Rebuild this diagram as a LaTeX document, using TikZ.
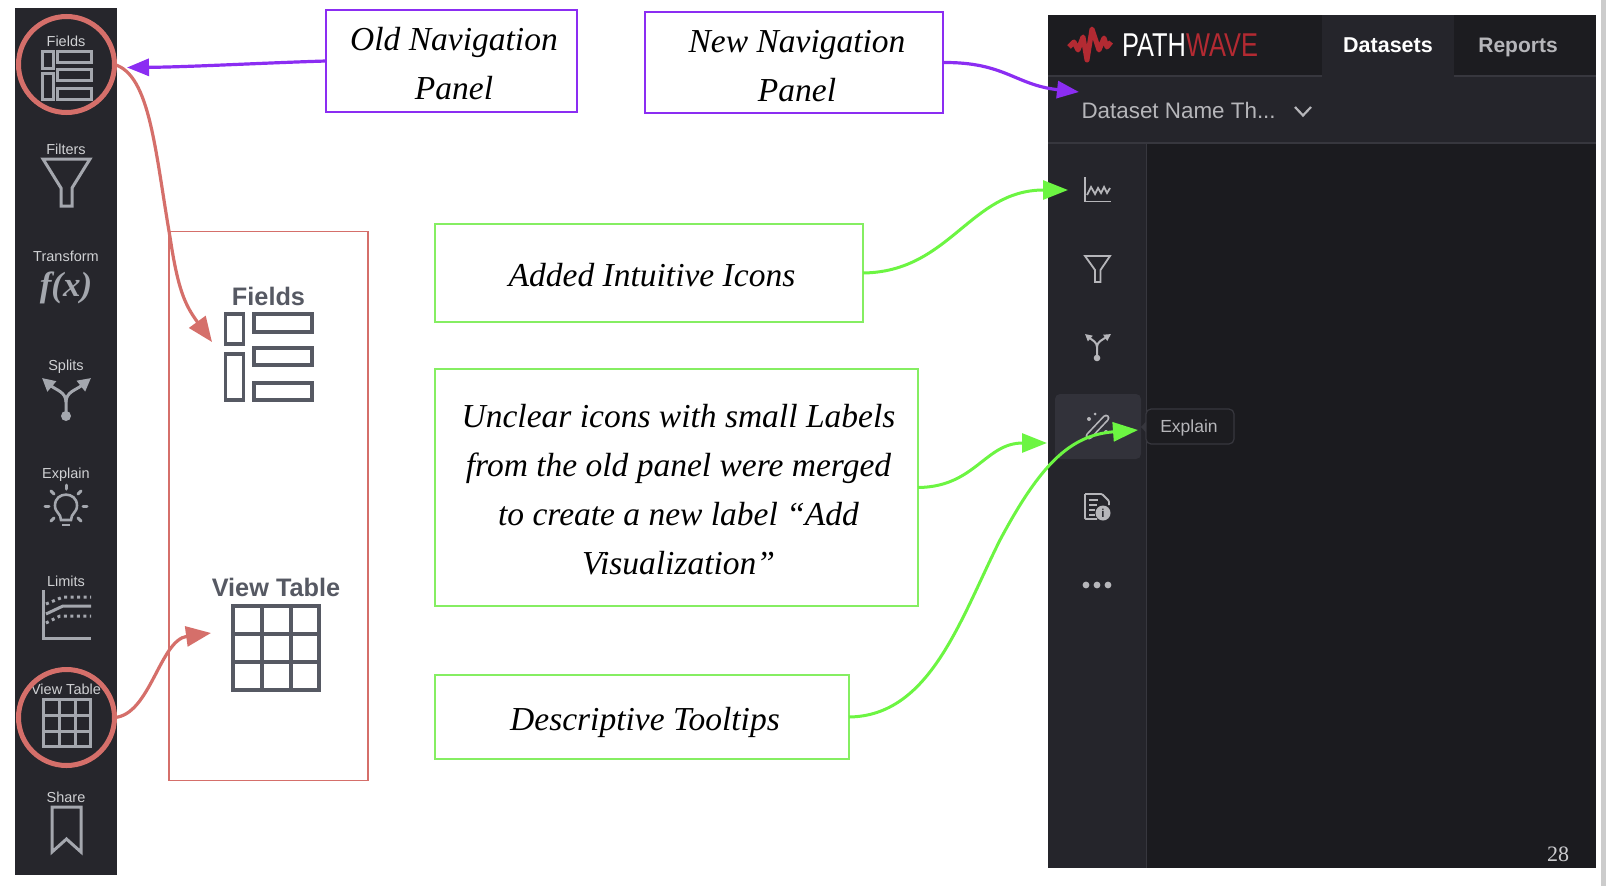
\documentclass[tikz,border=0pt]{standalone}
\usepackage{fontspec}
\setmainfont{Liberation Sans}
\newfontfamily\handfont{Liberation Serif}
\newfontfamily\logofont[FakeStretch=0.77]{Liberation Sans}
\usetikzlibrary{arrows.meta,positioning}
\definecolor{barbg}{HTML}{26262C}
\definecolor{baricon}{HTML}{A4A7AE}
\definecolor{barlabel}{HTML}{CFD0D3}
\definecolor{ringred}{HTML}{D56F6A}
\definecolor{navpurple}{HTML}{8B2DF2}
\definecolor{notegreen}{HTML}{6CF542}
\definecolor{boxgreen}{HTML}{85EE62}
\definecolor{slategrey}{HTML}{565963}
\definecolor{appdark}{HTML}{1B1B1F}
\definecolor{apppanel}{HTML}{25252B}
\definecolor{appline}{HTML}{37373E}
\definecolor{apphi}{HTML}{32323A}
\definecolor{apptext}{HTML}{B6B6BA}
\definecolor{apptop}{HTML}{1C1C20}
\definecolor{logored}{HTML}{B32A32}
\begin{document}
\begin{tikzpicture}[x=1pt,y=-1pt,line join=miter,
  every node/.style={inner sep=0pt,outer sep=0pt},
  barlbl/.style={font=\fontsize{14.5}{16}\selectfont,text=barlabel,text height=10pt,text depth=0pt},
  baricn/.style={draw=baricon,line width=3pt},
  bigicn/.style={draw=slategrey,line width=3.6pt},
  biglbl/.style={font=\fontsize{25.3}{28}\selectfont\bfseries,text=slategrey,text height=18pt,text depth=0pt},
  appicn/.style={draw=apptext,line width=1.8pt},
  ring/.style={draw=ringred,line width=5pt,circle,minimum size=96pt},
  handtxt/.style={font=\handfont\itshape\fontsize{33.5}{49}\selectfont,align=center,text=black},
  oldnew/.style={draw=navpurple,line width=1.3pt},
  note/.style={draw=boxgreen,line width=1.3pt},
  redflow/.style={draw=ringred,line width=3.2pt,-{Triangle[length=25pt,width=20pt]}},
  purpleflow/.style={draw=navpurple,line width=3.2pt,-{Triangle[length=22pt,width=17pt]}},
  greenflow/.style={draw=notegreen,line width=3pt,-{Triangle[length=25pt,width=19pt]}}]
  \useasboundingbox (0,0) rectangle (1606,886);
  \fill[black!20] (1601,0) rectangle (1606,886);
  % old bar
  \fill[barbg] (15,8) rectangle (117,875);
  \node[barlbl] (lblfields) at (66,41) {Fields};
  \draw[baricn] (42,51) rectangle (53,68);
  \draw[baricn] (42,73) rectangle (53,99);
  \draw[baricn] (57,51) rectangle (91,62);
  \draw[baricn] (57,69) rectangle (91,80);
  \draw[baricn] (57,88) rectangle (91,99);
  \node[barlbl] (lblfilters) at (66,149) {Filters};
  \draw[baricn] (43,159) -- (90,159) -- (72,188) -- (72,206) -- (61,206) -- (61,188) -- cycle;
  \node[barlbl] (lbltransform) at (66,256.5) {Transform};
  \node[font=\handfont\itshape\bfseries\fontsize{35}{38}\selectfont,text=baricon] (fx) at (66,288) {f(x)};
  \node[barlbl] (lblsplits) at (66,365) {Splits};
  \fill[baricon] (66,416) circle (5);
  \draw[draw=baricon,line width=3pt,-{Triangle[length=13pt,width=13pt]}] (66,416) -- (66,402) .. controls (66,392) and (56,390) .. (42,378);
  \draw[draw=baricon,line width=3pt,-{Triangle[length=13pt,width=13pt]}] (66,402) .. controls (66,392) and (76,390) .. (91,378);
  \node[barlbl] (lblexplain) at (66,473) {Explain};
  \draw[baricn,line width=2.6pt] (61,520) .. controls (61,513) and (55,513) .. (55,505.5) .. controls (55,491) and (77,491) .. (77,505.5) .. controls (77,513) and (71,513) .. (71,520) -- cycle;
  \draw[baricn,line width=2.8pt] (62,525) -- (70,525);
  \draw[baricn,line cap=round] (66,485) -- (66,489);
  \draw[baricn,line cap=round] (45,506) -- (49,506);
  \draw[baricn,line cap=round] (83,506) -- (87,506);
  \draw[baricn,line cap=round] (51,491) -- (54,494);
  \draw[baricn,line cap=round] (81,491) -- (78,494);
  \draw[baricn,line cap=round] (51,521) -- (54,518);
  \draw[baricn,line cap=round] (81,521) -- (78,518);
  \node[barlbl] (lbllimits) at (66,581) {Limits};
  \draw[baricn] (43,590) -- (43,638) -- (91,638);
  \draw[baricn] (46,614) -- (63,606) -- (91,606);
  \draw[baricn,dash pattern=on 3pt off 3.5pt] (46,604) -- (63,597) -- (91,597);
  \draw[baricn,dash pattern=on 3pt off 3.5pt] (46,623) -- (60,616) -- (91,616);
  \node[barlbl] (lblview) at (66,689) {View Table};
  \draw[baricn] (43,699) rectangle (90,746);
  \draw[baricn] (43,715) -- (90,715);
  \draw[baricn] (43,731) -- (90,731);
  \draw[baricn] (59,699) -- (59,746);
  \draw[baricn] (75,699) -- (75,746);
  \node[barlbl] (lblshare) at (66,797) {Share};
  \draw[baricn] (52,807) -- (81,807) -- (81,852) -- (66.5,839) -- (52,852) -- cycle;
  % red frame
  \node[draw=ringred,line width=1.6pt,minimum width=199pt,minimum height=549pt] (frame) at (268.5,506) {};
  \node[biglbl] (bigfields) at (268.5,296) {Fields};
  \draw[bigicn] (225.5,314) rectangle (243.5,344);
  \draw[bigicn] (225.5,354) rectangle (243.5,400);
  \draw[bigicn] (254,314) rectangle (312,332);
  \draw[bigicn] (254,348) rectangle (312,365);
  \draw[bigicn] (254,383) rectangle (312,400);
  \node[biglbl] (bigview) at (276,587) {View Table};
  \draw[bigicn] (233,606) rectangle (319,690);
  \draw[bigicn] (233,634) -- (319,634);
  \draw[bigicn] (233,662) -- (319,662);
  \draw[bigicn] (262,606) -- (262,690);
  \draw[bigicn] (291,606) -- (291,690);
  \coordinate (fieldstip) at (212,342);
  \coordinate (viewtip) at (211,633);
  % new panel
  \fill[appdark] (1048,15) rectangle (1596,868);
  \fill[apptop] (1048,15) rectangle (1596,76);
  \fill[apppanel] (1322,15) rectangle (1454,76);
  \fill[apppanel] (1048,76) rectangle (1596,143);
  \fill[apppanel] (1048,143) rectangle (1146,868);
  \draw[appline,line width=1.2pt] (1048,143) -- (1596,143);
  \draw[appline,line width=1.2pt] (1048,76) -- (1322,76);
  \draw[appline,line width=1.2pt] (1454,76) -- (1596,76);
  \draw[appline,line width=1.2pt] (1146.5,143) -- (1146.5,868);
  \draw[logored,line width=5pt,line join=round] (1069,47) -- (1074,42) -- (1078,50) -- (1083,37) -- (1087,60) -- (1092,29) -- (1099,50) -- (1104,38) -- (1107,47) -- (1111,42);
  \node[font=\logofont\fontsize{33}{36}\selectfont,text=white,anchor=west] (logopath) at (1122,45) {PATH};
  \node[font=\logofont\fontsize{33}{36}\selectfont,text=logored,right=0pt of logopath] (logowave) {WAVE};
  \node[font=\fontsize{21.5}{24}\selectfont\bfseries,text=white] (tabdatasets) at (1388,45) {Datasets};
  \node[font=\fontsize{21}{24}\selectfont\bfseries,text=apptext] (tabreports) at (1518,47) {Reports};
  \node[font=\fontsize{22.4}{24}\selectfont,text=apptext,anchor=west] (dsname) at (1081.5,110) {Dataset Name Th...};
  \draw[apptext,line width=2.2pt] (1295,107) -- (1303,115.5) -- (1311,107);
  \draw[appicn] (1085,177) -- (1085,201.5) -- (1111,201.5);
  \draw[appicn] (1087,195) -- (1091,187) -- (1095,194) -- (1098,188) -- (1101,193) -- (1104,187) -- (1107,193) -- (1110,188);
  \draw[appicn] (1085,256) -- (1110,256) -- (1100.5,270) -- (1100.5,282) -- (1095,282) -- (1095,270) -- cycle;
  \fill[apptext] (1097,358) circle (3.3);
  \draw[draw=apptext,line width=2pt,-{Triangle[length=7pt,width=7pt]}] (1097,358) -- (1097,347) .. controls (1097,342) and (1092,340) .. (1085,334);
  \draw[draw=apptext,line width=2pt,-{Triangle[length=7pt,width=7pt]}] (1097,347) .. controls (1097,342) and (1102,340) .. (1111,334);
  \fill[apphi,rounded corners=5pt] (1055,394) rectangle (1141,459);
  \draw[apptext,line width=7pt,line cap=round] (1089,436) -- (1106,418);
  \draw[apphi,line width=3.6pt,line cap=round] (1089,436) -- (1106,418);
  \fill[apptext] (1089,419) circle (2);
  \fill[apptext] (1095,414) circle (1.5);
  \fill[apptext] (1106,432) circle (2);
  \draw[appicn,rounded corners=1pt] (1085,494) -- (1102,494) -- (1109,501) -- (1109,505);
  \draw[appicn,rounded corners=1pt] (1085,494) -- (1085,519) -- (1097,519);
  \draw[appicn,line width=1.3pt] (1089,500) -- (1098,500);
  \draw[appicn,line width=1.3pt] (1089,505) -- (1097,505);
  \draw[appicn,line width=1.3pt] (1089,510) -- (1095,510);
  \draw[appicn,line width=1.3pt] (1089,515) -- (1095,515);
  \node[circle,fill=apptext,minimum size=15pt,text=apppanel,font=\fontsize{11.5}{12}\selectfont\bfseries] (infodot) at (1103,513) {i};
  \fill[apptext] (1086,585) circle (3.4);
  \fill[apptext] (1097,585) circle (3.4);
  \fill[apptext] (1108,585) circle (3.4);
  \fill[appline] (1146.5,421) -- (1141,427) -- (1146.5,433) -- cycle;
  \node[draw=appline,fill=apptop,line width=1.2pt,rounded corners=5pt,minimum width=88pt,minimum height=35pt] (tooltip) at (1190,426.5) {};
  \node[font=\fontsize{17.5}{20}\selectfont,text=apptext] (tooltiptxt) at (1189,428) {Explain};
  \node[font=\handfont\fontsize{22}{24}\selectfont,text=apptext!70!white] (pagenum) at (1558,854) {28};
  % notes
  \node[oldnew,minimum width=251pt,minimum height=102pt] (oldnav) at (451.5,61) {};
  \node[handtxt] at (454,64) (oldtxt) {Old Navigation\\Panel};
  \node[oldnew,minimum width=298pt,minimum height=101pt] (newnav) at (794,62.5) {};
  \node[handtxt] at (797,66) (newtxt) {New Navigation\\Panel};
  \node[note,minimum width=428pt,minimum height=98pt] (icons) at (649,273) {};
  \node[handtxt] at (652,275) (iconstxt) {Added Intuitive Icons};
  \node[note,minimum width=483pt,minimum height=237pt] (merged) at (676.5,487.5) {};
  \node[handtxt] at (678.5,490) (mergedtxt) {Unclear icons with small Labels\\from the old panel were merged\\to create a new label “Add\\Visualization”};
  \node[note,minimum width=414pt,minimum height=84pt] (tips) at (642,717) {};
  \node[handtxt] at (645,722) (tipstxt) {Descriptive Tooltips};
  % rings and arrows
  \node[ring] (fieldsring) at (66.5,64.5) {};
  \node[ring] (viewring) at (66.5,717.5) {};
  \coordinate (oldtip) at (127,67.5);
  \coordinate (newtip) at (1079,92);
  \coordinate (icontip) at (1068,190);
  \coordinate (mergetip) at (1047,443);
  \coordinate (tooltip tip) at (1138,430);
  \draw[purpleflow] (oldnav.west) .. controls (260,63) and (190,67) .. (oldtip);
  \draw[purpleflow] (newnav.east) .. controls (1005,62) and (1015,85) .. (newtip);
  \draw[redflow] (fieldsring.east) .. controls (150,75) and (155,150) .. (170,237) .. controls (178,290) and (185,305) .. (fieldstip);
  \draw[redflow] (viewring.east) .. controls (150,715) and (160,640) .. (viewtip);
  \draw[greenflow] (icons.east) .. controls (950,272) and (970,190) .. (icontip);
  \draw[greenflow] (merged.east) .. controls (975,487) and (985,443) .. (mergetip);
  \draw[greenflow] (tips.east) .. controls (930,716) and (960,620) .. (1000,540) .. controls (1040,465) and (1070,435) .. (tooltip tip);
\end{tikzpicture}
\end{document}
